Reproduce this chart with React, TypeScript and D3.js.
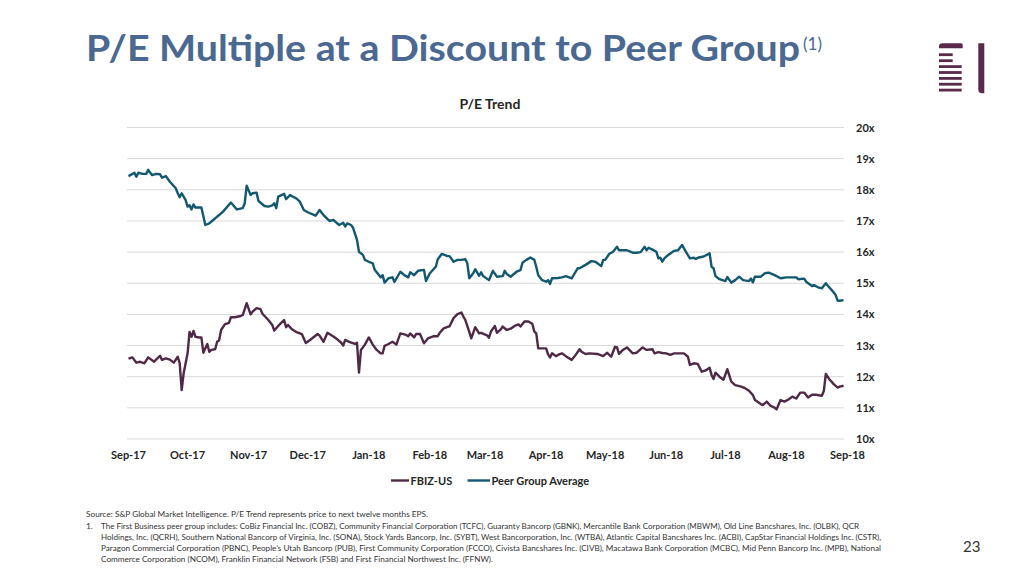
import React from "react";
import * as d3 from "d3";

// ---------- DATA ----------
const fbizSeries: [string, number][] = [
  ["2017-09-01",12.58],["2017-09-03",12.62],["2017-09-05",12.45],["2017-09-07",12.48],["2017-09-09",12.43],["2017-09-11",12.62],["2017-09-14",12.48],["2017-09-15",12.55],["2017-09-17",12.67],["2017-09-18",12.54],["2017-09-20",12.59],["2017-09-22",12.55],["2017-09-24",12.45],["2017-09-26",12.64],["2017-09-27",12.43],["2017-09-28",11.57],["2017-09-29",12.11],
  ["2017-10-01",12.75],["2017-10-02",13.44],["2017-10-03",13.28],["2017-10-04",13.47],["2017-10-05",13.28],["2017-10-07",13.26],["2017-10-08",13.26],["2017-10-09",12.77],["2017-10-11",13.05],["2017-10-12",12.80],["2017-10-13",12.86],["2017-10-15",12.88],["2017-10-16",13.12],["2017-10-17",13.17],["2017-10-18",13.50],["2017-10-20",13.69],["2017-10-22",13.73],["2017-10-23",13.91],["2017-10-25",13.91],["2017-10-28",13.95],["2017-10-29",13.98],["2017-10-31",14.36],
  ["2017-11-02",14.00],["2017-11-03",14.09],["2017-11-05",14.20],["2017-11-07",14.17],["2017-11-08",14.02],["2017-11-11",13.82],["2017-11-13",13.66],["2017-11-14",13.48],["2017-11-16",13.63],["2017-11-19",13.82],["2017-11-20",13.59],["2017-11-21",13.66],["2017-11-23",13.52],["2017-11-25",13.44],["2017-11-28",13.37],["2017-11-30",13.08],
  ["2017-12-02",13.17],["2017-12-06",13.37],["2017-12-07",13.32],["2017-12-09",13.12],["2017-12-11",13.41],["2017-12-14",13.29],["2017-12-16",13.20],["2017-12-18",13.09],["2017-12-19",13.00],["2017-12-20",13.18],["2017-12-22",13.12],["2017-12-25",13.05],["2017-12-26",13.09],["2017-12-27",12.13],["2017-12-28",12.86],["2017-12-30",13.03],
  ["2018-01-01",13.26],["2018-01-03",13.03],["2018-01-05",12.86],["2018-01-07",12.75],["2018-01-08",12.75],["2018-01-09",12.99],["2018-01-11",13.05],["2018-01-13",13.12],["2018-01-15",13.03],["2018-01-17",13.39],["2018-01-20",13.34],["2018-01-21",13.30],["2018-01-22",13.39],["2018-01-24",13.26],["2018-01-25",13.37],["2018-01-27",13.37],["2018-01-29",13.07],["2018-01-31",13.23],
  ["2018-02-03",13.30],["2018-02-05",13.30],["2018-02-06",13.41],["2018-02-08",13.55],["2018-02-10",13.60],["2018-02-11",13.62],["2018-02-13",13.88],["2018-02-15",14.01],["2018-02-17",14.06],["2018-02-18",13.93],["2018-02-19",13.82],["2018-02-21",13.44],["2018-02-22",13.23],["2018-02-23",13.41],["2018-02-24",13.59],["2018-02-26",13.39],["2018-02-27",13.41],
  ["2018-03-02",13.33],["2018-03-03",13.25],["2018-03-04",13.45],["2018-03-06",13.63],["2018-03-07",13.41],["2018-03-09",13.52],["2018-03-10",13.61],["2018-03-12",13.50],["2018-03-14",13.54],["2018-03-16",13.63],["2018-03-18",13.68],["2018-03-19",13.61],["2018-03-21",13.77],["2018-03-23",13.77],["2018-03-25",13.70],["2018-03-26",13.45],["2018-03-27",13.39],["2018-03-28",12.91],["2018-03-30",12.91],
  ["2018-04-01",12.91],["2018-04-02",12.72],["2018-04-03",12.62],["2018-04-04",12.75],["2018-04-06",12.66],["2018-04-07",12.70],["2018-04-09",12.75],["2018-04-11",12.66],["2018-04-14",12.54],["2018-04-16",12.70],["2018-04-18",12.88],["2018-04-19",12.80],["2018-04-21",12.73],["2018-04-23",12.75],["2018-04-27",12.73],["2018-04-30",12.66],
  ["2018-05-02",12.77],["2018-05-04",12.64],["2018-05-06",12.96],["2018-05-07",12.94],["2018-05-08",12.73],["2018-05-10",12.86],["2018-05-12",12.94],["2018-05-15",12.75],["2018-05-17",12.77],["2018-05-20",12.94],["2018-05-22",12.86],["2018-05-25",12.88],["2018-05-26",12.75],["2018-05-28",12.79],["2018-05-30",12.76],
  ["2018-06-01",12.75],["2018-06-03",12.70],["2018-06-05",12.75],["2018-06-10",12.75],["2018-06-12",12.64],["2018-06-13",12.38],["2018-06-15",12.43],["2018-06-17",12.41],["2018-06-19",12.16],["2018-06-21",12.20],["2018-06-23",12.29],["2018-06-24",12.05],["2018-06-25",11.93],["2018-06-26",12.13],["2018-06-28",12.00],["2018-06-30",11.90],
  ["2018-07-02",12.24],["2018-07-04",11.84],["2018-07-06",11.73],["2018-07-09",11.68],["2018-07-11",11.63],["2018-07-13",11.55],["2018-07-15",11.41],["2018-07-16",11.25],["2018-07-19",11.12],["2018-07-20",11.09],["2018-07-22",11.20],["2018-07-24",11.06],["2018-07-26",11.01],["2018-07-27",10.95],["2018-07-29",11.25],["2018-07-31",11.20],
  ["2018-08-02",11.27],["2018-08-04",11.36],["2018-08-06",11.30],["2018-08-08",11.49],["2018-08-10",11.49],["2018-08-12",11.33],["2018-08-14",11.42],["2018-08-16",11.42],["2018-08-19",11.39],["2018-08-20",11.55],["2018-08-21",12.09],["2018-08-23",11.90],["2018-08-25",11.76],["2018-08-27",11.65],["2018-08-28",11.68],["2018-08-30",11.71],
];

const peerSeries: [string, number][] = [
  ["2017-09-01",18.44],["2017-09-03",18.51],["2017-09-04",18.55],["2017-09-05",18.42],["2017-09-06",18.55],["2017-09-08",18.51],["2017-09-10",18.51],["2017-09-11",18.64],["2017-09-13",18.47],["2017-09-15",18.51],["2017-09-17",18.50],["2017-09-18",18.39],["2017-09-20",18.44],["2017-09-22",18.26],["2017-09-25",18.05],["2017-09-26",17.89],["2017-09-27",17.76],["2017-09-28",17.89],["2017-09-30",17.67],
  ["2017-10-01",17.46],["2017-10-02",17.50],["2017-10-03",17.37],["2017-10-04",17.53],["2017-10-05",17.43],["2017-10-08",17.43],["2017-10-10",16.87],["2017-10-12",16.92],["2017-10-14",17.03],["2017-10-16",17.14],["2017-10-17",17.19],["2017-10-19",17.30],["2017-10-23",17.59],["2017-10-26",17.37],["2017-10-29",17.41],["2017-10-30",17.57],["2017-10-31",18.13],
  ["2017-11-02",17.83],["2017-11-03",17.89],["2017-11-05",17.91],["2017-11-06",17.64],["2017-11-09",17.48],["2017-11-11",17.46],["2017-11-13",17.50],["2017-11-14",17.57],["2017-11-15",17.41],["2017-11-16",17.78],["2017-11-19",17.87],["2017-11-20",17.70],["2017-11-22",17.83],["2017-11-25",17.73],["2017-11-27",17.62],["2017-11-29",17.35],
  ["2017-12-01",17.28],["2017-12-05",17.17],["2017-12-07",17.35],["2017-12-09",17.19],["2017-12-12",17.00],["2017-12-14",17.03],["2017-12-16",16.92],["2017-12-17",16.87],["2017-12-19",16.94],["2017-12-20",16.82],["2017-12-21",16.92],["2017-12-23",16.87],["2017-12-24",16.78],["2017-12-26",16.39],["2017-12-27",16.01],["2017-12-29",15.91],["2017-12-30",15.75],
  ["2018-01-01",15.69],["2018-01-03",15.64],["2018-01-04",15.43],["2018-01-07",15.19],["2018-01-08",15.26],["2018-01-09",15.02],["2018-01-11",15.16],["2018-01-13",15.19],["2018-01-14",15.04],["2018-01-17",15.37],["2018-01-19",15.26],["2018-01-21",15.19],["2018-01-22",15.35],["2018-01-24",15.26],["2018-01-26",15.40],["2018-01-29",15.43],["2018-01-30",15.07],
  ["2018-02-01",15.32],["2018-02-04",15.53],["2018-02-05",15.77],["2018-02-07",15.94],["2018-02-10",15.87],["2018-02-11",15.87],["2018-02-13",15.69],["2018-02-15",15.75],["2018-02-17",15.75],["2018-02-19",15.77],["2018-02-20",15.64],["2018-02-21",15.16],["2018-02-23",15.32],["2018-02-24",15.45],["2018-02-26",15.24],["2018-02-27",15.35],["2018-02-28",15.23],
  ["2018-03-03",15.10],["2018-03-05",15.40],["2018-03-07",15.21],["2018-03-10",15.23],["2018-03-11",15.40],["2018-03-12",15.30],["2018-03-14",15.21],["2018-03-17",15.37],["2018-03-19",15.42],["2018-03-20",15.66],["2018-03-22",15.75],["2018-03-24",15.83],["2018-03-26",15.75],["2018-03-27",15.53],["2018-03-28",15.26],["2018-03-30",15.10],
  ["2018-04-01",15.05],["2018-04-02",15.10],["2018-04-03",14.98],["2018-04-04",15.16],["2018-04-07",15.17],["2018-04-09",15.19],["2018-04-11",15.23],["2018-04-14",15.16],["2018-04-17",15.48],["2018-04-18",15.48],["2018-04-21",15.59],["2018-04-24",15.71],["2018-04-26",15.69],["2018-04-29",15.55],["2018-04-30",15.75],
  ["2018-05-01",15.75],["2018-05-03",15.94],["2018-05-05",16.01],["2018-05-07",16.17],["2018-05-08",16.06],["2018-05-12",16.06],["2018-05-15",15.98],["2018-05-17",15.98],["2018-05-19",16.00],["2018-05-21",16.17],["2018-05-22",16.06],["2018-05-23",16.14],["2018-05-25",16.08],["2018-05-27",16.01],["2018-05-28",15.80],["2018-05-29",15.82],["2018-05-30",15.69],["2018-05-31",15.80],
  ["2018-06-02",15.91],["2018-06-05",16.04],["2018-06-07",16.06],["2018-06-09",16.23],["2018-06-11",16.01],["2018-06-13",15.80],["2018-06-15",15.82],["2018-06-16",15.78],["2018-06-17",15.82],["2018-06-20",15.86],["2018-06-23",15.96],["2018-06-24",15.53],["2018-06-25",15.48],["2018-06-26",15.23],["2018-06-28",15.13],
  ["2018-07-01",15.07],["2018-07-02",15.20],["2018-07-04",15.02],["2018-07-06",15.10],["2018-07-08",15.21],["2018-07-10",15.10],["2018-07-13",15.07],["2018-07-14",15.15],["2018-07-15",15.03],["2018-07-16",15.21],["2018-07-19",15.21],["2018-07-21",15.32],["2018-07-23",15.34],["2018-07-26",15.26],["2018-07-29",15.16],
  ["2018-08-01",15.19],["2018-08-06",15.19],["2018-08-07",15.13],["2018-08-10",15.15],["2018-08-11",15.05],["2018-08-14",14.91],["2018-08-15",14.94],["2018-08-17",14.87],["2018-08-19",14.84],["2018-08-21",15.00],["2018-08-22",14.92],["2018-08-24",14.78],["2018-08-26",14.62],["2018-08-27",14.44],["2018-08-28",14.44],["2018-08-30",14.46],
];

const yTicks = [10, 11, 12, 13, 14, 15, 16, 17, 18, 19, 20];
const xDomain = ["2017-09-01", "2018-09-01"];
const seriesNames = ["FBIZ-US", "Peer Group Average"];
const seriesColors = ["#4f2946", "#135871"];

const titleText = "P/E Multiple at a Discount to Peer Group";
const chartTitle = "P/E Trend";
const sourceLine = "Source: S&P Global Market Intelligence. P/E Trend represents price to next twelve months EPS.";
const noteLines = [
  "The First Business peer group includes: CoBiz Financial Inc. (COBZ), Community Financial Corporation (TCFC), Guaranty Bancorp (GBNK), Mercantile Bank Corporation (MBWM), Old Line Bancshares, Inc. (OLBK), QCR",
  "Holdings, Inc. (QCRH), Southern National Bancorp of Virginia, Inc. (SONA), Stock Yards Bancorp, Inc. (SYBT), West Bancorporation, Inc. (WTBA), Atlantic Capital Bancshares Inc. (ACBI), CapStar Financial Holdings Inc. (CSTR),",
  "Paragon Commercial Corporation (PBNC), People\u2019s Utah Bancorp (PUB), First Community Corporation (FCCO), Civista Bancshares Inc. (CIVB), Macatawa Bank Corporation (MCBC), Mid Penn Bancorp Inc. (MPB), National",
  "Commerce Corporation (NCOM), Franklin Financial Network (FSB) and First Financial Northwest Inc. (FFNW).",
];
const noteWidths = [758, 780, 780, 392];
const pageNumber = "23";

const FONT = "Lato, 'Open Sans', sans-serif";

export default function App() {
  const parse = d3.timeParse("%Y-%m-%d");
  const x = d3
    .scaleTime()
    .domain(xDomain.map((d) => parse(d) as Date))
    .range([128.5, 847.5]);
  const y = d3.scaleLinear().domain([10, 20]).range([439, 127.5]);

  const line = d3
    .line<[string, number]>()
    .x((d) => x(parse(d[0]) as Date))
    .y((d) => y(d[1]));

  const monthTicks = x.ticks(d3.timeMonth.every(1) as any);
  const fmt = d3.timeFormat("%b-%y");
  const gridX0 = 127;
  const gridX1 = 844;

  return (
    <svg
      width={1024}
      height={576}
      style={{ position: "absolute", left: 0, top: 0, background: "#fff" }}
      fontFamily={FONT}
    >
      <rect x={0} y={0} width={1024} height={576} fill="#ffffff" />
      {/* Title */}
      <text x={86} y={61} fontSize={36} fontWeight={700} fill="#4a6891" textLength={714} lengthAdjust="spacingAndGlyphs">
        {titleText}
      </text>
      <text x={803} y={50} fontSize={17} fontWeight={400} fill="#4a6891">
        (1)
      </text>

      {/* Logo */}
      <g fill="#5a2a4b">
        <path d="M939,48.3 V46.3 Q939,43.3 942.5,43.3 H961 Q963,43.3 962.7,45.3 V48.3 Z" />
        <rect x={939} y={53.3} width={13.7} height={2.8} />
        <rect x={939} y={59.3} width={13.7} height={2.8} />
        <rect x={939} y={65.2} width={22.7} height={2.8} />
        <rect x={939} y={71.1} width={22.7} height={2.8} />
        <rect x={939} y={77} width={22.7} height={2.8} />
        <rect x={939} y={82.8} width={22.7} height={2.8} />
        <rect x={939} y={88.7} width={22.7} height={2.8} />
        <path d="M978.3,43.3 H984.3 V93.3 H982 Q978.3,93.3 978.3,89.5 Z" />
      </g>

      {/* Chart title */}
      <text x={490} y={109} textAnchor="middle" fontSize={14} fontWeight={700} fill="#262626">
        {chartTitle}
      </text>

      {/* Gridlines and y labels */}
      {yTicks.map((t) => (
        <g key={t}>
          <line x1={gridX0} x2={gridX1} y1={y(t)} y2={y(t)} stroke="#d9d9d9" strokeWidth={1} />
          <text x={856} y={y(t) + 4} fontSize={11} fontWeight={700} fill="#262626">
            {t}x
          </text>
        </g>
      ))}

      {/* X labels */}
      {monthTicks.map((t, i) => (
        <text key={i} x={x(t)} y={459} textAnchor="middle" fontSize={11} fontWeight={700} fill="#262626">
          {fmt(t)}
        </text>
      ))}

      {/* Lines */}
      <path d={line(peerSeries) || ""} fill="none" stroke={seriesColors[1]} strokeWidth={2.4} strokeLinejoin="round" />
      <path d={line(fbizSeries) || ""} fill="none" stroke={seriesColors[0]} strokeWidth={2.4} strokeLinejoin="round" />

      {/* Legend */}
      <line x1={391} x2={409} y1={480.5} y2={480.5} stroke={seriesColors[0]} strokeWidth={2.4} />
      <text x={410.5} y={484.5} fontSize={11} fontWeight={700} fill="#262626">
        {seriesNames[0]}
      </text>
      <line x1={467.5} x2={490} y1={480.5} y2={480.5} stroke={seriesColors[1]} strokeWidth={2.4} />
      <text x={491.5} y={484.5} fontSize={11} fontWeight={700} fill="#262626">
        {seriesNames[1]}
      </text>

      {/* Footnotes */}
      <g fontSize={8.3} fill="#333333">
        <text x={86} y={517.3} textLength={342} lengthAdjust="spacingAndGlyphs">
          {sourceLine}
        </text>
        <text x={86} y={528.7}>1.</text>
        {noteLines.map((l, i) => (
          <text key={i} x={101} y={528.7 + i * 11.2} textLength={noteWidths[i]} lengthAdjust="spacingAndGlyphs">
            {l}
          </text>
        ))}
      </g>

      {/* Page number */}
      <text x={963} y={552} fontSize={15} fill="#333333">
        {pageNumber}
      </text>
    </svg>
  );
}
